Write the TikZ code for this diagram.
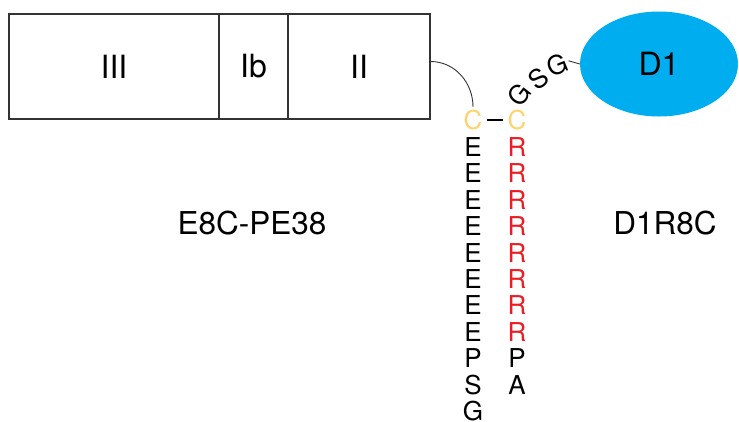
\documentclass[tikz,border=0pt]{standalone}
\usepackage{fontspec}
\setmainfont{TeX Gyre Heros}
\usetikzlibrary{shapes.geometric,calc}
\definecolor{cyanD}{HTML}{00AEEF}
\definecolor{yelC}{HTML}{FFD36E}
\definecolor{redR}{HTML}{ED1C24}
\definecolor{edge}{HTML}{333333}
\tikzset{
  dombox/.style={draw=edge,line width=1.1pt,minimum height=105pt,inner sep=0pt,font=\fontsize{32}{32}\selectfont},
  aa/.style={inner sep=1pt,font=\fontsize{26}{26}\selectfont},
  biglabel/.style={inner sep=0pt,font=\fontsize{31.5}{31.5}\selectfont},
  link/.style={draw=edge,line width=0.9pt}
}
\begin{document}
\begin{tikzpicture}[x=1pt,y=-1pt]
\useasboundingbox (0,0) rectangle (739,421);
% domains
\node[dombox,minimum width=210pt] (iii) at (114,66.5) {III};
\node[dombox,minimum width=69pt] (ib) at (253.5,66.5) {Ib};
\node[dombox,minimum width=142pt] (ii) at (359,66.5) {II};
% D1
\node[ellipse,fill=cyanD,minimum width=158pt,minimum height=105pt,inner sep=0pt,font=\fontsize{32}{32}\selectfont] (d1) at (659,64) {D1};
% cysteines
\node[aa,text=yelC] (cl) at (473,120) {C};
\node[aa,text=yelC] (cr) at (517,120) {C};
% left column
\foreach \t [count=\i from 0] in {E,E,E,E,E,E,E,E,P,S,G}
  \node[aa] (l\i) at (473,{147+26.4*\i}) {\t};
% right column
\foreach \i in {0,...,7}
  \node[aa,text=redR] (r\i) at (517,{147+26.4*\i}) {R};
\node[aa] (r8) at (517,{147+26.4*8}) {P};
\node[aa] (r9) at (517,{147+26.4*9}) {A};
% GSG linker
\node[aa,rotate=52] (g1) at (519,95) {G};
\node[aa,rotate=38] (s1) at (538,78.5) {S};
\node[aa,rotate=22] (g2) at (557,65) {G};
% connectors
\draw[link] ($(ii.east)+(0,-5)$) to[out=0,in=90] ($(cl.north)+(0,-2)$);
\draw[draw=black,line width=1.8pt,shorten <=3pt,shorten >=3pt] (cl.east) -- (cr.west);
\draw[link] ($(g2.east)+(1,0)$) -- (d1.west);
% labels
\node[biglabel] (lab1) at (252,223) {E8C-PE38};
\node[biglabel] (lab2) at (665,223) {D1R8C};
\end{tikzpicture}
\end{document}
